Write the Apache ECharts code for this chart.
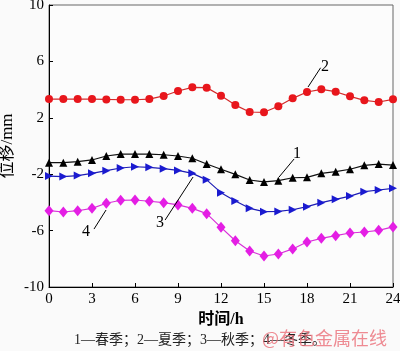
<!DOCTYPE html>
<html>
<head>
    <meta charset="utf8">
    <title>ECharts</title>
    <script src="https://cdn.jsdelivr.net/npm/echarts@6/dist/echarts.min.js"></script>
</head>
<body style="margin:0;background:#fafafa;">
    <div id="main" style="width: 400px;height:351px;"></div>
    <script type="text/javascript">
        // 时间 0..24 h
        var hours = [0,1,2,3,4,5,6,7,8,9,10,11,12,13,14,15,16,17,18,19,20,21,22,23,24];
        var xTicks = [0, 3, 6, 9, 12, 15, 18, 21, 24];
        var yTicks = [-10, -6, -2, 2, 6, 10];
        // 1 春季
        var spring = [-1.18,-1.18,-1.11,-0.99,-0.71,-0.57,-0.57,-0.57,-0.62,-0.71,-0.87,-1.28,-1.65,-2.01,-2.41,-2.55,-2.46,-2.25,-2.22,-1.94,-1.82,-1.65,-1.37,-1.28,-1.35];
        // 2 夏季
        var summer = [3.33,3.33,3.33,3.33,3.3,3.28,3.28,3.33,3.55,3.9,4.16,4.14,3.57,2.9,2.41,2.39,2.82,3.38,3.83,4.02,3.85,3.52,3.24,3.12,3.31];
        // 3 秋季
        var autumn = [-2.13,-2.17,-2.1,-1.94,-1.75,-1.56,-1.47,-1.51,-1.61,-1.73,-1.94,-2.4,-3.31,-3.9,-4.42,-4.66,-4.64,-4.52,-4.3,-4.02,-3.78,-3.55,-3.24,-3.12,-3.0];
        // 4 冬季
        var winter = [-4.59,-4.68,-4.59,-4.42,-4.06,-3.85,-3.83,-3.92,-4.02,-4.18,-4.42,-4.8,-5.77,-6.72,-7.45,-7.8,-7.66,-7.3,-6.81,-6.55,-6.36,-6.17,-6.1,-5.98,-5.74];
        // 引线标注: 数字, 文字位置, 引线起点, 引线终点 (数据坐标)
        var notes = [
            {name: '1', text: [17.3, -0.57], from: [17.1, -0.92], to: [16.05, -2.2]},
            {name: '2', text: [19.26, 5.6], from: [18.95, 5.55], to: [18.07, 4.18]},
            {name: '3', text: [7.75, -5.46], from: [8.1, -5.25], to: [10.05, -2.2]},
            {name: '4', text: [2.58, -6.1], from: [3.14, -5.89], to: [3.98, -4.54]}
        ];

        var serif = 'Liberation Serif, Noto Sans CJK SC';

        function pairs(vals) {
            var out = [];
            for (var i = 0; i < hours.length; i++) {
                out.push([hours[i], vals[i]]);
            }
            return out;
        }

        function note(n) {
            return {
                silent: true,
                symbol: 'none',
                lineStyle: {color: '#000', width: 1, type: 'solid'},
                label: {show: false},
                data: [[{coord: n.from}, {coord: n.to}]]
            };
        }
        function noteText(n) {
            return {
                silent: true,
                symbol: 'circle',
                symbolSize: 0,
                label: {
                    show: true, position: 'inside', formatter: n.name,
                    color: '#000', fontFamily: serif, fontSize: 16
                },
                data: [{coord: n.text}]
            };
        }

        var myChart = echarts.init(document.getElementById('main'));
        var option = {
            backgroundColor: '#fafafa',
            animation: false,
            grid: {
                left: 49, right: 7, top: 5, bottom: 64,
                outerBoundsMode: 'none',
                containLabel: false,
                show: true, borderColor: '#666', borderWidth: 1,
                backgroundColor: '#fcfcfc'
            },
            xAxis: {
                type: 'value',
                min: 0, max: 24, interval: 3,
                name: '时间/h',
                nameLocation: 'middle',
                nameGap: 25,
                nameMoveOverlap: false,
                nameTextStyle: {fontFamily: serif, fontSize: 16, fontWeight: 'bold', color: '#000'},
                axisLine: {onZero: false, lineStyle: {color: '#000', width: 1}},
                axisTick: {inside: true, length: 4, lineStyle: {color: '#000'}},
                axisLabel: {
                    margin: 5, color: '#000', fontFamily: serif, fontSize: 15,
                    customValues: xTicks
                },
                splitLine: {show: false}
            },
            yAxis: {
                type: 'value',
                min: -10, max: 10, interval: 4,
                name: '位移/mm',
                nameLocation: 'middle',
                nameGap: 33,
                nameMoveOverlap: false,
                nameTextStyle: {fontFamily: serif, fontSize: 17, color: '#000'},
                axisLine: {show: true, onZero: false, lineStyle: {color: '#000', width: 1}},
                axisTick: {show: true, inside: true, length: 4, lineStyle: {color: '#000'}},
                axisLabel: {
                    margin: 5, color: '#000', fontFamily: serif, fontSize: 15,
                    customValues: yTicks
                },
                splitLine: {show: false}
            },
            series: [
                {
                    name: '1', type: 'line', data: pairs(spring),
                    symbol: 'triangle', symbolSize: 8,
                    lineStyle: {color: '#111', width: 1.2},
                    itemStyle: {color: '#000'},
                    markLine: note(notes[0]), markPoint: noteText(notes[0])
                },
                {
                    name: '2', type: 'line', data: pairs(summer),
                    symbol: 'circle', symbolSize: 8,
                    lineStyle: {color: '#d42a2a', width: 1.2},
                    itemStyle: {color: '#e8161c'},
                    markLine: note(notes[1]), markPoint: noteText(notes[1])
                },
                {
                    name: '3', type: 'line', data: pairs(autumn),
                    symbol: 'triangle', symbolRotate: -90, symbolSize: 8,
                    lineStyle: {color: '#1c1cb4', width: 1.2},
                    itemStyle: {color: '#1a1ad0'},
                    markLine: note(notes[2]), markPoint: noteText(notes[2])
                },
                {
                    name: '4', type: 'line', data: pairs(winter),
                    symbol: 'diamond', symbolSize: [9, 11],
                    lineStyle: {color: '#d832d8', width: 1.2},
                    itemStyle: {color: '#e41ee4'},
                    markLine: note(notes[3]), markPoint: noteText(notes[3])
                }
            ],
            graphic: [
                {
                    type: 'text', left: 'center', top: 333,
                    style: {
                        text: '1—春季；2—夏季；3—秋季；4—冬季。',
                        font: '14px ' + serif, fill: '#222'
                    }
                },
                {
                    type: 'text', left: 262, top: 329,
                    style: {
                        text: '@有色金属在线',
                        font: '18px Noto Sans CJK SC', fill: 'rgba(235,110,120,0.8)'
                    }
                }
            ]
        };
        myChart.setOption(option);
    </script>
</body>
</html>
